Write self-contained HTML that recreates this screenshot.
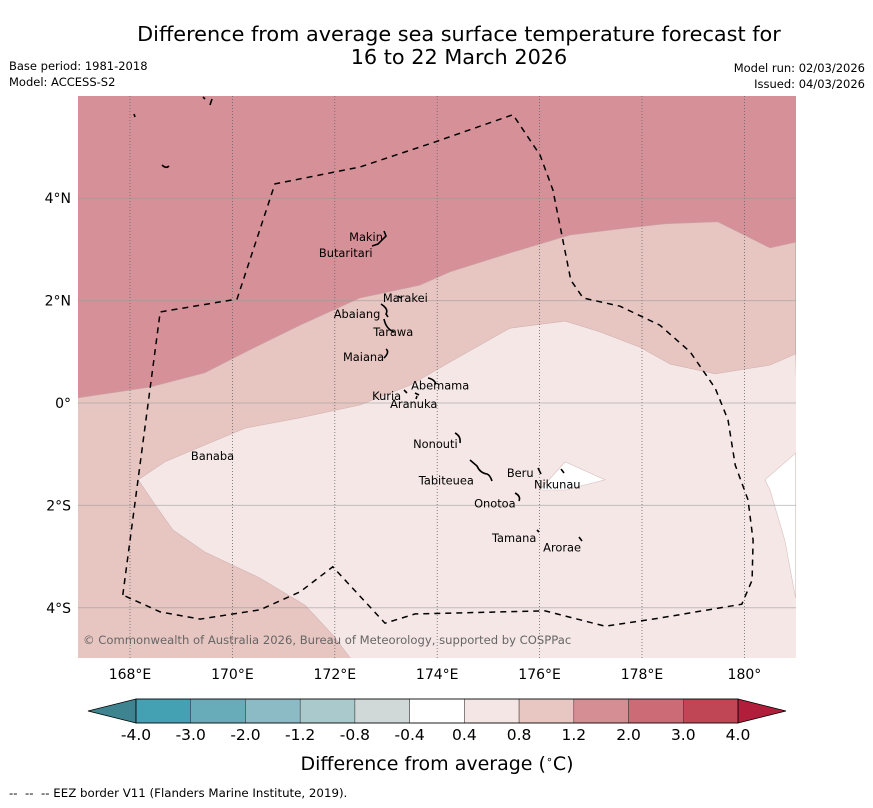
<!DOCTYPE html>
<html><head><meta charset="utf-8"><style>
body{margin:0;background:#fff;width:873px;height:804px;overflow:hidden;font-family:"DejaVu Sans","Liberation Sans",sans-serif}
</style></head><body>
<svg id="chart" width="873" height="804" xmlns="http://www.w3.org/2000/svg" font-family="DejaVu Sans, Liberation Sans, sans-serif">
<text x="459" y="41" font-size="20.8" text-anchor="middle">Difference from average sea surface temperature forecast for</text>
<text x="459" y="64" font-size="20.8" text-anchor="middle">16 to 22 March 2026</text>
<text x="9" y="70" font-size="11.5">Base period: 1981-2018</text>
<text x="9" y="86" font-size="11.5">Model: ACCESS-S2</text>
<text x="865" y="72" font-size="11.5" text-anchor="end">Model run: 02/03/2026</text>
<text x="865" y="88" font-size="11.5" text-anchor="end">Issued: 04/03/2026</text>
<defs><clipPath id="mapclip"><rect x="78" y="96" width="718" height="562"/></clipPath></defs>
<g id="map" clip-path="url(#mapclip)"></g>
<g id="axes"></g>
<g id="cbar"></g>
<text x="437" y="770" font-size="19" text-anchor="middle">Difference from average (<tspan font-size="11" dy="-7">∘</tspan><tspan dy="7">C)</tspan></text>
<text x="9" y="797" font-size="11.8" xml:space="preserve">--  --  -- EEZ border V11 (Flanders Marine Institute, 2019).</text>
</svg>
<script>
const lonTicks=[168,170,172,174,176,178,180];
const lonLabels=["168°E","170°E","172°E","174°E","176°E","178°E","180°"];
const latTicks=[4,2,0,-2,-4];
const latLabels=["4°N","2°N","0°","2°S","4°S"];
const upperLon=[166.98,168.39,169.46,170.34,171.32,172.49,173.66,174.25,175.42,176.59,177.56,178.45,179.48,180.5,181.0];
const upperLat=[0.10,0.31,0.59,1.04,1.52,2.05,2.30,2.56,2.93,3.28,3.40,3.50,3.54,3.03,3.14];
const lowerLon=[168.16,168.68,169.46,170.25,171.32,172.49,173.47,174.25,175.42,176.5,177.18,177.96,178.55,179.43,180.5,181.0];
const lowerLat=[-1.5,-1.15,-0.82,-0.49,-0.29,-0.04,0.35,0.80,1.46,1.60,1.39,1.09,0.76,0.57,0.74,0.96];
const edgeLon=[168.16,168.49,168.84,169.46,170.54,171.42,171.96,172.3];
const edgeLat=[-1.5,-1.99,-2.48,-2.91,-3.42,-3.95,-4.53,-4.98];
const whiteLon=[181,180.4,180.5,180.79,181];
const whiteLat=[-0.98,-1.5,-1.7,-2.68,-3.81];
const islandLon=[176.0,176.5,177.28,176.5];
const islandLat=[-1.7,-1.15,-1.5,-1.7];
const eezLon=[167.86,168.59,170.09,170.83,172.49,173.96,175.48,176.01,176.26,176.61,176.85,177.57,178.35,178.94,179.43,179.68,179.82,180.07,180.17,180.15,179.95,178.35,177.28,176.11,173.57,172.98,171.96,171.32,170.54,169.37,168.59,167.86];
const eezLat=[-3.75,1.78,2.03,4.28,4.61,5.10,5.63,4.84,4.16,2.40,2.05,1.89,1.52,1.00,0.29,-0.33,-1.21,-1.89,-2.68,-3.46,-3.93,-4.20,-4.36,-4.06,-4.12,-4.30,-3.20,-3.69,-4.04,-4.22,-4.08,-3.75];
const placeNames=["Makin","Butaritari","Marakei","Abaiang","Tarawa","Maiana","Abemama","Kuria","Aranuka","Nonouti","Banaba","Tabiteuea","Beru","Nikunau","Onotoa","Tamana","Arorae"];
const placeLon=[172.28,171.69,172.94,171.98,172.75,172.16,173.49,172.73,173.08,173.53,169.19,173.64,175.36,175.89,174.72,175.07,176.07];
const placeLat=[3.24,2.93,2.05,1.74,1.39,0.90,0.34,0.14,-0.02,-0.80,-1.04,-1.51,-1.37,-1.59,-1.96,-2.64,-2.82];
const cbBounds=["-4.0","-3.0","-2.0","-1.2","-0.8","-0.4","0.4","0.8","1.2","2.0","3.0","4.0"];
const cbColors=["#44a0b3","#68acba","#8cbac5","#a9c9cc","#d0d8d8","#ffffff","#f4e6e4","#e8c6c2","#d68e95","#cc6a75","#c04655"];

const NS="http://www.w3.org/2000/svg";
const X=lon=>130+(lon-168)*51.2, Y=lat=>403-lat*51.2;
function mk(tag,attrs,parent){const e=document.createElementNS(NS,tag);for(const k in attrs)e.setAttribute(k,attrs[k]);parent.appendChild(e);return e;}
const pts=(lo,la)=>lo.map((l,i)=>X(l).toFixed(1)+","+Y(la[i]).toFixed(1));
const map=document.getElementById('map'), axes=document.getElementById('axes'), cb=document.getElementById('cbar');

let r=mk('rect',{x:78,y:96,width:718,height:562,fill:'#d69098'},map);


let p=mk('polygon',{points:pts(upperLon,upperLat).concat([X(181)+","+Y(-6),X(166.9)+","+Y(-6)]).join(' '),fill:'#e7c6c2',stroke:'#c9a3a5','stroke-width':0.6},map);


p=mk('polygon',{points:pts(lowerLon,lowerLat).concat([X(181.2)+","+Y(-6)]).concat(pts(edgeLon.slice().reverse(),edgeLat.slice().reverse())).join(' '),fill:'#f4e7e6',stroke:'#d2b3b3','stroke-width':0.6},map);


p=mk('polygon',{points:pts(whiteLon,whiteLat).join(' '),fill:'#ffffff',stroke:'#d8c0c0','stroke-width':0.6},map);


p=mk('polygon',{points:pts(islandLon,islandLat).join(' '),fill:'#ffffff',stroke:'#d8c0c0','stroke-width':0.6},map);



lonTicks.forEach((t,i)=>{
  const l=mk('line',{x1:X(t),x2:X(t),y1:96,y2:658,stroke:'#666','stroke-width':0.8,'stroke-dasharray':'1,2'},map);
  
  
  const tx=mk('text',{x:X(t),y:679,'font-size':14,'text-anchor':'middle'},axes);tx.textContent=lonLabels[i];
  
  
});
latTicks.forEach((t,i)=>{
  const l=mk('line',{x1:78,x2:796,y1:Y(t),y2:Y(t),stroke:'#999','stroke-opacity':0.55,'stroke-width':1},map);
  
  
  const tx=mk('text',{x:71,y:Y(t)+5,'font-size':14,'text-anchor':'end'},axes);tx.textContent=latLabels[i];
  
  
});
p=mk('polyline',{points:pts(eezLon,eezLat).join(' '),fill:'none',stroke:'#000','stroke-width':1.5,'stroke-dasharray':'6,5'},map);



const isl=["M384,231 L386,236 L378,244 L372,246","M398,296 l3,2","M381,304 q8,5 5,10 l2,3","M384,319 q2,10 10,13","M386,349 q4,3 -2,9","M428,378 q6,1 8,6","M404,390 l3,3 M415,393 l4,2 M417,396 l-1,3","M455,433 q6,3 5,10","M470,460 l7,6 q3,7 10,8 q3,1 5,7","M538,468 l3,6","M561,469 l3,4","M515,493 q6,3 4,8","M537,530 l2,2","M579,537 l3,4","M134,114 l1,3","M203,97 l2,2 M212,99 l-2,6","M162,165 q4,4 7,1"];
isl.forEach(d=>{const e=mk('path',{d:d,fill:'none',stroke:'#000','stroke-width':1.6},map);
  
  });
placeNames.forEach((n,i)=>{
  const tx=mk('text',{x:X(placeLon[i]),y:Y(placeLat[i])+4,'font-size':11.4},map);tx.textContent=n;
  
  
});

const cr=mk('text',{x:83,y:644,'font-size':11.6,fill:'#666'},map);cr.textContent="© Commonwealth of Australia 2026, Bureau of Meteorology, supported by COSPPac";



// colorbar
const cx0=136,cx1=738,cy=699,ch=24,cw=(cx1-cx0)/cbColors.length;
let t=mk('polygon',{points:`${cx0},${cy} ${cx0},${cy+ch} 88,${cy+ch/2}`,fill:'#3d8390',stroke:'#000','stroke-width':0.8},cb);


t=mk('polygon',{points:`${cx1},${cy} ${cx1},${cy+ch} 786,${cy+ch/2}`,fill:'#b01e3c',stroke:'#000','stroke-width':0.8},cb);


cbColors.forEach((c,i)=>{
  const b=mk('rect',{x:cx0+i*cw,y:cy,width:cw,height:ch,fill:c,stroke:'#333','stroke-width':0.5},cb);
  
  
});
mk('rect',{x:cx0,y:cy,width:cx1-cx0,height:ch,fill:'none',stroke:'#000','stroke-width':0.8},cb);
cbBounds.forEach((s,i)=>{
  const tx=mk('text',{x:cx0+i*cw,y:740,'font-size':15.5,'text-anchor':'middle'},cb);tx.textContent=s;
  
  
});
</script>
</body></html>
